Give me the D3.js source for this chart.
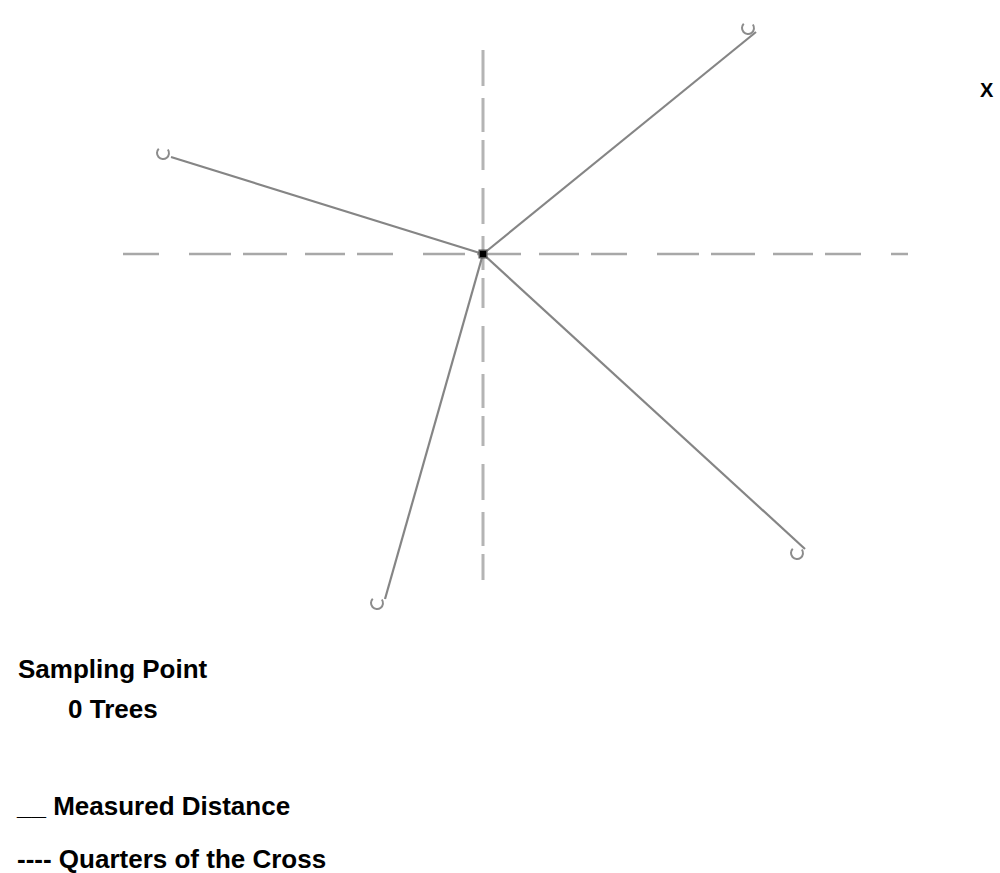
<!DOCTYPE html>
<html>
<head>
<meta charset="utf-8">
<script src="https://cdn.jsdelivr.net/npm/d3@7"></script>
<style>
  body { margin: 0; background: #fff; }
  svg { display: block; }
  text { font-family: "Liberation Sans", Arial, sans-serif; font-weight: bold; fill: #000; }
</style>
</head>
<body>
<svg id="chart" width="1000" height="873"></svg>
<script>
// tree positions relative to the sampling point (units of the sketch)
const treeNames = ["NW", "NE", "SE", "SW"];
const treeX = [-32.0, 26.5, 31.4, -10.6];
const treeY = [10.1, 22.6, -29.9, -34.9];

// the cross through the sampling point
const crossX = [-36, 42.5];
const crossY = [-32.6, 20.4];

const legendLines = ["Sampling Point", "0 Trees", "__ Measured Distance", "---- Quarters of the Cross"];

var svg = d3.select("#chart");

var x = d3.scaleLinear().domain([-36, 42.5]).range([123, 908]),
  y = d3.scaleLinear().domain([-35, 25]).range([604, 4]);

var g = svg.append("g");

// quarters of the cross (dashed)
g.append("line")
  .attr("x1", x(crossX[0])).attr("x2", x(crossX[1]))
  .attr("y1", y(0)).attr("y2", y(0))
  .attr("stroke", "#a8a8a8")
  .attr("stroke-width", 2.5)
  .attr("stroke-dasharray", "36 30 42 12 44 18 40 12");

g.append("line")
  .attr("x1", x(0)).attr("x2", x(0))
  .attr("y1", y(crossY[1])).attr("y2", y(crossY[0]))
  .attr("stroke", "#b4b4b4")
  .attr("stroke-width", 3)
  .attr("stroke-dasharray", "36 12 34 8 30 18");

// measured distances
g.selectAll("line.dist")
  .data(treeNames)
  .enter()
  .append("line")
  .attr("class", "dist")
  .attr("x1", x(0))
  .attr("y1", y(0))
  .attr("x2", (d, i) => x(treeX[i]) + 8)
  .attr("y2", (d, i) => y(treeY[i]) + (treeY[i] > 0 ? 4 : -4))
  .attr("stroke", "#858585")
  .attr("stroke-width", 2.2);

// trees drawn as small open "C" marks
var arc = d3.arc()
  .innerRadius(5)
  .outerRadius(7)
  .startAngle(0.3 * Math.PI)
  .endAngle(1.75 * Math.PI);

g.selectAll("path.tree")
  .data(treeNames)
  .enter()
  .append("path")
  .attr("class", "tree")
  .attr("d", arc)
  .attr("transform", (d, i) => "translate(" + x(treeX[i]) + "," + y(treeY[i]) + ")")
  .attr("fill", "#8c8c8c");

// sampling point
g.append("rect")
  .attr("x", x(0) - 4.5)
  .attr("y", y(0) - 4.5)
  .attr("width", 9)
  .attr("height", 9)
  .attr("fill", "#555");
g.append("rect")
  .attr("x", x(0) - 3)
  .attr("y", y(0) - 3)
  .attr("width", 6)
  .attr("height", 6)
  .attr("fill", "#000");

svg.append("text")
  .attr("x", 980)
  .attr("y", 97)
  .attr("font-size", 20)
  .text("X");

// legend text
const legendPos = [[18, 678], [68, 718], [17, 815], [17, 868]];
svg.selectAll("text.legend")
  .data(legendLines)
  .enter()
  .append("text")
  .attr("class", "legend")
  .attr("x", (d, i) => legendPos[i][0])
  .attr("y", (d, i) => legendPos[i][1])
  .attr("font-size", 26)
  .attr("xml:space", "preserve")
  .text((d) => d);
</script>
</body>
</html>
